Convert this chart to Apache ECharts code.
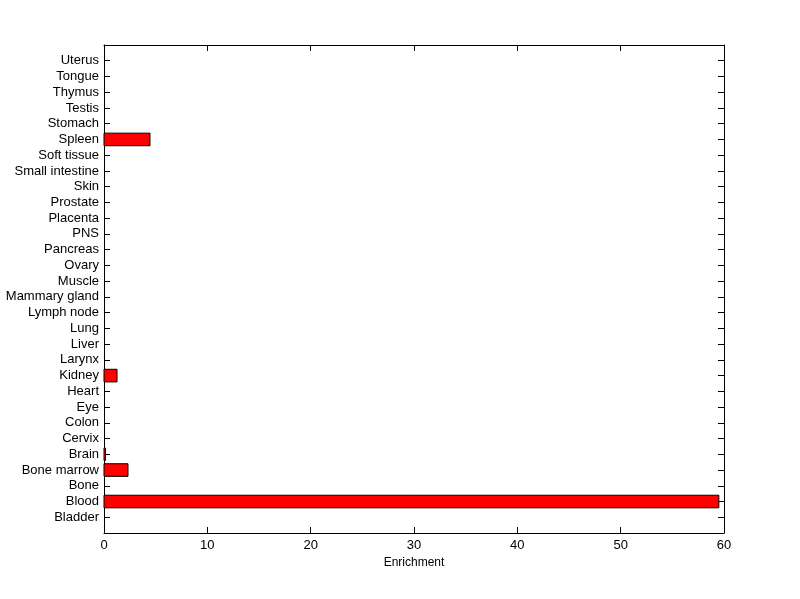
<!DOCTYPE html>
<html>
<head>
<meta charset="utf-8">
<script src="https://cdn.jsdelivr.net/npm/echarts@6/dist/echarts.min.js"></script>
<style>html,body{margin:0;padding:0;background:#fff;}#c{width:800px;height:599px;}</style>
</head>
<body>
<div id="c"></div>
<script>
const categories = ["Bladder","Blood","Bone","Bone marrow","Brain","Cervix","Colon","Eye","Heart","Kidney","Larynx","Liver","Lung","Lymph node","Mammary gland","Muscle","Ovary","Pancreas","PNS","Placenta","Prostate","Skin","Small intestine","Soft tissue","Spleen","Stomach","Testis","Thymus","Tongue","Uterus"];
const enrichment = [0,59.5,0,2.32,0.15,0,0,0,0,1.26,0,0,0,0,0,0,0,0,0,0,0,0,0,0,4.45,0,0,0,0,0];
const xTicks = [0,10,20,30,40,50,60];
const xLabel = "Enrichment";

const FONT = "'Liberation Sans', Arial, Helvetica, sans-serif";
const chart = echarts.init(document.getElementById('c'));
const data = enrichment.map((v, i) => [v, i + 1]);

const yLabel = v => (v >= 1 && v <= categories.length && Number.isInteger(v)) ? categories[v - 1] : '';
function baseY() {
  return {
    type: 'value', min: 0, max: categories.length + 1, interval: 1,
    axisLine: {show: true, onZero: false, lineStyle: {color: '#000', width: 1}},
    axisTick: {show: true, inside: true, length: 6, lineStyle: {color: '#000'}},
    splitLine: {show: false}
  };
}
function baseX() {
  return {
    type: 'value', min: xTicks[0], max: xTicks[xTicks.length - 1], interval: 10,
    axisLine: {show: true, onZero: false, lineStyle: {color: '#000', width: 1}},
    axisTick: {show: true, inside: true, length: 6, lineStyle: {color: '#000'}},
    splitLine: {show: false}
  };
}

chart.setOption({
  animation: false,
  backgroundColor: '#fff',
  grid: {left: 104, right: 76, top: 45, bottom: 66, containLabel: false},
  xAxis: [
    Object.assign(baseX(), {position: 'bottom', name: xLabel, nameLocation: 'middle', nameGap: 22,
      nameTextStyle: {color: '#000', fontFamily: FONT, fontSize: 12},
      axisLabel: {color: '#000', fontFamily: FONT, fontSize: 13, margin: 6}}),
    Object.assign(baseX(), {position: 'top', axisLabel: {show: false}})
  ],
  yAxis: [
    Object.assign(baseY(), {position: 'left',
      axisLabel: {color: '#000', fontFamily: FONT, fontSize: 13, margin: 5, formatter: yLabel,
        showMinLabel: false, showMaxLabel: false}}),
    Object.assign(baseY(), {position: 'right', axisLabel: {show: false}})
  ],
  series: [{
    type: 'custom',
    xAxisIndex: 0, yAxisIndex: 0,
    data: data,
    encode: {x: 0, y: 1},
    renderItem: function (params, api) {
      const v = api.value(0), c = api.value(1);
      if (!(v > 0)) return null;
      const p0 = api.coord([0, c + 0.4]);
      const p1 = api.coord([v, c - 0.4]);
      return {
        type: 'rect',
        shape: {x: p0[0], y: p0[1], width: p1[0] - p0[0], height: p1[1] - p0[1]},
        style: {fill: '#ff0000', stroke: '#000', lineWidth: 1}
      };
    }
  }]
});
</script>
</body>
</html>
